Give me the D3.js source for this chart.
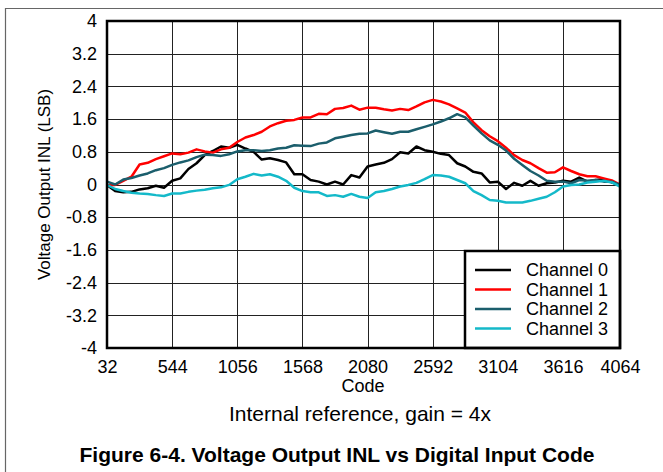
<!DOCTYPE html>
<html>
<head>
<meta charset="utf-8">
<script src="https://cdn.jsdelivr.net/npm/d3@7"></script>
<style>
  body { margin: 0; background: #fff; }
  svg { font-family: "Liberation Sans", Arial, sans-serif; }
</style>
</head>
<body>
<div id="chart"></div>
<script>
// data
var codes = [32, 96, 160, 224, 288, 352, 416, 480, 544, 608, 672, 736, 800, 864, 928, 992,
  1056, 1120, 1184, 1248, 1312, 1376, 1440, 1504, 1568, 1632, 1696, 1760, 1824, 1888, 1952, 2016,
  2080, 2144, 2208, 2272, 2336, 2400, 2464, 2528, 2592, 2656, 2720, 2784, 2848, 2912, 2976, 3040,
  3104, 3168, 3232, 3296, 3360, 3424, 3488, 3552, 3616, 3680, 3744, 3808, 3872, 3936, 4000, 4064];

var channel0 = [-0.01, -0.16, -0.19, -0.18, -0.12, -0.09, -0.03, -0.08, 0.09, 0.15, 0.38, 0.52, 0.72, 0.82, 0.93, 0.9,
  0.97, 0.88, 0.8, 0.61, 0.64, 0.6, 0.54, 0.25, 0.25, 0.11, 0.07, 0.0, 0.07, 0.0, 0.23, 0.17,
  0.44, 0.49, 0.53, 0.62, 0.79, 0.76, 0.93, 0.84, 0.8, 0.75, 0.72, 0.52, 0.44, 0.31, 0.27, 0.05,
  0.07, -0.11, 0.04, -0.03, 0.09, -0.03, 0.03, 0.05, 0.09, 0.07, 0.17, 0.07, 0.11, 0.13, 0.05, -0.01];

var channel1 = [-0.02, -0.01, 0.09, 0.19, 0.49, 0.53, 0.62, 0.69, 0.76, 0.74, 0.78, 0.86, 0.81, 0.78, 0.86, 0.9,
  1.04, 1.15, 1.21, 1.29, 1.42, 1.5, 1.56, 1.58, 1.64, 1.64, 1.73, 1.72, 1.85, 1.87, 1.93, 1.83,
  1.88, 1.88, 1.84, 1.81, 1.85, 1.82, 1.91, 2.01, 2.07, 2.03, 1.96, 1.86, 1.76, 1.52, 1.33, 1.18,
  1.06, 0.9, 0.72, 0.6, 0.52, 0.4, 0.29, 0.3, 0.42, 0.33, 0.25, 0.2, 0.2, 0.15, 0.1, 0.0];

var channel2 = [0.07, 0.0, 0.12, 0.16, 0.22, 0.27, 0.35, 0.4, 0.48, 0.54, 0.59, 0.67, 0.73, 0.72, 0.7, 0.74,
  0.81, 0.84, 0.84, 0.82, 0.84, 0.88, 0.9, 0.96, 0.95, 0.94, 1.0, 1.03, 1.13, 1.17, 1.21, 1.24,
  1.25, 1.32, 1.28, 1.24, 1.29, 1.29, 1.35, 1.41, 1.47, 1.54, 1.62, 1.72, 1.64, 1.44, 1.25, 1.08,
  0.97, 0.83, 0.63, 0.48, 0.33, 0.22, 0.09, 0.07, 0.07, 0.03, 0.11, 0.09, 0.11, 0.07, 0.07, -0.01];

var channel3 = [-0.01, -0.11, -0.16, -0.2, -0.22, -0.23, -0.26, -0.28, -0.22, -0.22, -0.18, -0.15, -0.13, -0.09, -0.07, -0.01,
  0.13, 0.19, 0.26, 0.22, 0.25, 0.19, 0.09, -0.08, -0.16, -0.19, -0.19, -0.28, -0.26, -0.3, -0.23, -0.3,
  -0.33, -0.19, -0.16, -0.11, -0.05, -0.01, 0.04, 0.13, 0.23, 0.22, 0.19, 0.11, 0.03, -0.16, -0.26, -0.38,
  -0.4, -0.44, -0.44, -0.44, -0.4, -0.35, -0.3, -0.19, -0.05, -0.01, 0.0, 0.05, 0.07, 0.09, 0.05, -0.05];

var seriesNames = ["Channel 0", "Channel 1", "Channel 2", "Channel 3"];
var seriesColors = ["#000000", "#ff0000", "#1b5e6c", "#14b9c9"];
var xTicks = [32, 544, 1056, 1568, 2080, 2592, 3104, 3616, 4064];
var yTicks = [-4, -3.2, -2.4, -1.6, -0.8, 0, 0.8, 1.6, 2.4, 3.2, 4];

var W = 663, H = 472;
var plotL = 107, plotR = 620, plotT = 21, plotB = 348;

var svg = d3.select("#chart").append("svg")
    .attr("width", W)
    .attr("height", H);

// page frame (only left and top edges show)
svg.append("path")
    .attr("d", "M5.5," + H + "V8.5H" + W)
    .attr("fill", "none")
    .attr("stroke", "#666")
    .attr("stroke-width", 1.2);

var x = d3.scaleLinear().domain([32, 4064]).range([plotL, plotR]);
var y = d3.scaleLinear().domain([-4, 4]).range([plotB, plotT]);

var xAxis = svg.append("g")
    .attr("transform", "translate(0," + plotB + ")")
    .call(d3.axisBottom(x).tickValues(xTicks).tickSize(-(plotB - plotT)).tickPadding(12)
      .tickFormat(function(d) { return String(d); }));

var yAxis = svg.append("g")
    .attr("transform", "translate(" + plotL + ",0)")
    .call(d3.axisLeft(y).tickValues(yTicks).tickSize(-(plotR - plotL)).tickPadding(10)
      .tickFormat(function(d) { return String(d); }));

[xAxis, yAxis].forEach(function(a) {
  a.select(".domain").remove();
  a.selectAll(".tick line")
      .attr("stroke", "#222")
      .attr("stroke-width", 1)
      .attr("shape-rendering", "crispEdges");
  a.selectAll(".tick text")
      .attr("fill", "#000")
      .style("font-size", "18px")
      .style("font-family", "'Liberation Sans', Arial, sans-serif");
});

// the curves
var allSeries = [channel0, channel1, channel2, channel3];
var line = d3.line()
    .x(function(d, i) { return x(codes[i]); })
    .y(function(d) { return y(d); });

svg.append("g").selectAll("path")
    .data(allSeries)
  .enter().append("path")
    .attr("d", line)
    .attr("fill", "none")
    .attr("stroke", function(d, i) { return seriesColors[i]; })
    .attr("stroke-width", 2.5)
    .attr("stroke-linejoin", "round");

// legend
var lg = svg.append("g");
lg.append("rect")
    .attr("x", 465).attr("y", 251)
    .attr("width", plotR - 465).attr("height", plotB - 251)
    .attr("fill", "#fff")
    .attr("stroke", "#000")
    .attr("stroke-width", 2.5);

var rows = lg.selectAll(".row")
    .data(seriesNames)
  .enter().append("g")
    .attr("class", "row")
    .attr("transform", function(d, i) { return "translate(0," + (270 + i * 19.5) + ")"; });

rows.append("line")
    .attr("x1", 475).attr("x2", 511)
    .attr("stroke", function(d, i) { return seriesColors[i]; })
    .attr("stroke-width", 2.5);

rows.append("text")
    .attr("x", 526)
    .attr("dy", "0.35em")
    .style("font-size", "18px")
    .text(function(d) { return d; });

// plot frame
svg.append("rect")
    .attr("x", plotL).attr("y", plotT)
    .attr("width", plotR - plotL).attr("height", plotB - plotT)
    .attr("fill", "none")
    .attr("stroke", "#000")
    .attr("stroke-width", 2.5);

// axis titles and captions
svg.append("text")
    .attr("x", 363).attr("y", 392)
    .attr("text-anchor", "middle")
    .style("font-size", "18px")
    .text("Code");

svg.append("text")
    .attr("transform", "translate(49.5," + ((plotT + plotB) / 2) + ") rotate(-90)")
    .attr("text-anchor", "middle")
    .style("font-size", "17px")
    .text("Voltage Output INL (LSB)");

svg.append("text")
    .attr("x", 360).attr("y", 421)
    .attr("text-anchor", "middle")
    .style("font-size", "21px")
    .text("Internal reference, gain = 4x");

svg.append("text")
    .attr("x", 337).attr("y", 462)
    .attr("text-anchor", "middle")
    .style("font-size", "21px")
    .style("font-weight", "bold")
    .text("Figure 6-4. Voltage Output INL vs Digital Input Code");
</script>
</body>
</html>
